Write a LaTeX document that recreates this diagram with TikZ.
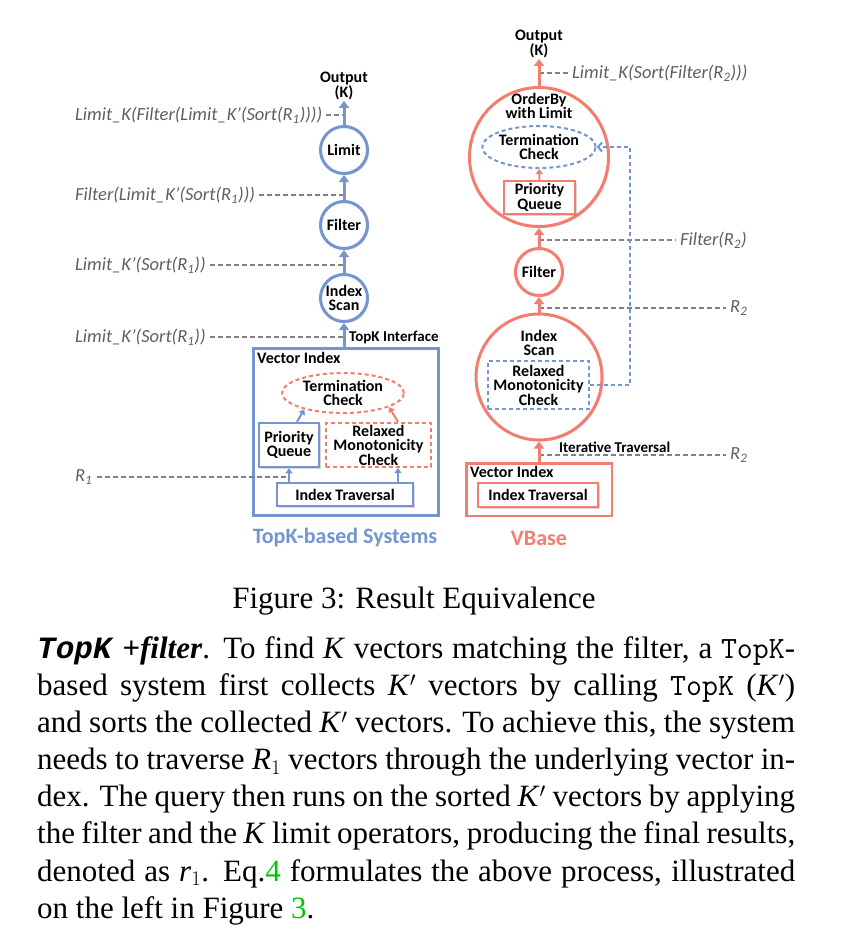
\documentclass[tikz,border=0pt]{standalone}
\usepackage{fontspec}
\setmainfont{Liberation Serif}
\newfontfamily\carlito{Carlito}
\newfontfamily\courmono{Liberation Mono}
\usetikzlibrary{arrows.meta,shapes.geometric,shadows}

\definecolor{tkblue}{RGB}{118,148,208}
\definecolor{vbred}{RGB}{243,126,112}
\definecolor{lblgray}{RGB}{95,95,95}
\definecolor{guidegray}{RGB}{128,128,128}
\definecolor{refgreen}{RGB}{0,200,0}

\newcommand{\opfont}{\carlito\bfseries\fontsize{16}{14.5}\selectfont}
\newcommand{\lblfont}{\carlito\itshape\fontsize{18.5}{20}\selectfont}
\newcommand{\ifacefont}{\carlito\bfseries\fontsize{15}{16}\selectfont}
\newcommand{\sysfont}{\carlito\bfseries\fontsize{22}{24}\selectfont}
\newcommand{\bodyfont}{\fontsize{31}{37.14}\selectfont}

\tikzset{
  shadowed/.style={drop shadow={shadow xshift=1.5pt,shadow yshift=-1.5pt,opacity=.25,fill=black!60}},
  op/.style={circle,draw=#1,line width=3pt,fill=white,inner sep=0pt,align=center,font=\opfont,shadowed},
  opbox/.style={rectangle,draw=#1,line width=2.5pt,fill=white,inner sep=0pt,align=center,font=\opfont,shadowed},
  dashbox/.style={rectangle,draw=#1,line width=2pt,dash pattern=on 4pt off 3pt,inner sep=0pt,align=center,font=\opfont},
  dashoval/.style={ellipse,draw=#1,line width=2pt,dash pattern=on 4pt off 3pt,inner sep=0pt,align=center,font=\opfont},
  optext/.style={inner sep=1pt,align=center,font=\opfont},
  lbl/.style={inner sep=4pt,font=\lblfont,text=lblgray},
  guide/.style={draw=guidegray,line width=1.2pt,dash pattern=on 5pt off 3pt},
  flow/.style={draw=#1,line width=3pt,-{Triangle[length=7pt,width=10pt]}},
  subflow/.style={draw=#1,line width=2pt,-{Triangle[length=5pt,width=7pt]}},
  feedback/.style={draw=tkblue,line width=2pt,dash pattern=on 4pt off 3pt,-{Straight Barb[length=4pt,width=9pt]}},
}

\begin{document}
\begin{tikzpicture}[x=1pt,y=-1pt]
\useasboundingbox (0,0) rectangle (849,940);

% TopK-based system
\node[op=tkblue,minimum size=47pt] (limitL) at (344,150) {Limit};
\node[op=tkblue,minimum size=47pt] (filterL) at (344,225) {Filter};
\node[op=tkblue,minimum size=47pt] (scanL) at (344,298) {Index\\Scan};
\node[optext] (outL) at (344,86) {Output\\(K)};
\node[opbox=tkblue,minimum width=185pt,minimum height=167pt] (vecL) at (346,432) {};
\node[optext,anchor=west] (vecLtitle) at (256,358) {Vector Index};
\node[dashoval=vbred,minimum width=122pt,minimum height=40pt] (termL) at (343,393) {Termination\\Check};
\node[opbox=tkblue,minimum width=60pt,minimum height=44pt] (pqL) at (289,445) {Priority\\Queue};
\node[dashbox=vbred,minimum width=105pt,minimum height=44pt] (rmcL) at (378.5,445) {Relaxed\\Monotonicity\\Check};
\node[opbox=tkblue,minimum width=136pt,minimum height=23pt] (travL) at (345,494.5) {Index Traversal};
\node[font=\ifacefont,anchor=west,inner sep=0pt] (ifaceL) at (349,337) {TopK Interface};
\node[font=\sysfont,text=tkblue] (sysL) at (345,538) {TopK-based Systems};

\node[lbl,anchor=west] (eqL1) at (71,115) {Limit\_K(Filter(Limit\_K’(Sort(R\textsubscript{1}))))};
\node[lbl,anchor=west] (eqL2) at (71,195) {Filter(Limit\_K’(Sort(R\textsubscript{1})))};
\node[lbl,anchor=west] (eqL3) at (71,265) {Limit\_K’(Sort(R\textsubscript{1}))};
\node[lbl,anchor=west] (eqL4) at (71,337) {Limit\_K’(Sort(R\textsubscript{1}))};
\node[lbl,anchor=west] (eqL5) at (71,477) {R\textsubscript{1}};

\draw[guide] (eqL1.east) -- (eqL1.east -| limitL);
\draw[guide] (eqL2.east) -- (eqL2.east -| limitL);
\draw[guide] (eqL3.east) -- (eqL3.east -| limitL);
\draw[guide] (eqL4.east) -- (eqL4.east -| limitL);
\draw[guide] (eqL5.east) -- (eqL5.east -| pqL);

\draw[flow=tkblue] (limitL) -- (outL);
\draw[flow=tkblue] (filterL) -- (limitL);
\draw[flow=tkblue] (scanL) -- (filterL);
\draw[flow=tkblue] (scanL |- vecL.north) -- (scanL);
\coordinate (rmcLfoot) at ([xshift=19.5pt]rmcL.south);
\draw[subflow=tkblue] (pqL |- travL.north) -- (pqL);
\draw[subflow=tkblue] (rmcLfoot |- travL.north) -- (rmcLfoot);
\draw[subflow=tkblue] ([xshift=8pt]pqL.north) -- (termL.-157);
\draw[subflow=vbred] (rmcLfoot |- rmcL.north) -- (termL.-17);

% VBase
\node[op=vbred,minimum size=139pt] (orderR) at (539,157) {};
\node[optext] (orderRtitle) at (539,106) {OrderBy\\with Limit};
\node[dashoval=tkblue,minimum width=113pt,minimum height=42pt] (termR) at (539,147) {Termination\\Check};
\node[opbox=vbred,minimum width=71pt,minimum height=33pt] (pqR) at (539.5,197.5) {Priority\\Queue};
\node[op=vbred,minimum size=47pt] (filterR) at (539,272) {Filter};
\node[op=vbred,minimum size=126pt] (scanR) at (539,377) {};
\node[optext] (scanRtitle) at (539,343) {Index\\Scan};
\node[dashbox=tkblue,minimum width=101pt,minimum height=48pt] (rmcR) at (538.5,385) {Relaxed\\Monotonicity\\Check};
\node[opbox=vbred,minimum width=145.5pt,minimum height=52.5pt] (vecR) at (539,489.5) {};
\node[optext,anchor=west] (vecRtitle) at (469,472) {Vector Index};
\node[opbox=vbred,minimum width=120pt,minimum height=24pt] (travR) at (538,495) {Index Traversal};
\node[optext] (outR) at (539,44) {Output\\(K)};
\node[font=\ifacefont,anchor=west,inner sep=0pt] (ifaceR) at (559,447) {Iterative Traversal};
\node[font=\sysfont,text=vbred] (sysR) at (539,538) {VBase};

\node[lbl,anchor=west] (eqR1) at (568,73) {Limit\_K(Sort(Filter(R\textsubscript{2})))};
\node[lbl,anchor=west] (eqR2) at (676,240) {Filter(R\textsubscript{2})};
\node[lbl,anchor=west] (eqR3) at (726,308) {R\textsubscript{2}};
\node[lbl,anchor=west] (eqR4) at (726,455) {R\textsubscript{2}};

\draw[guide] (eqR1.west -| orderR) -- (eqR1.west);
\draw[guide] (eqR2.west -| orderR) -- (eqR2.west);
\draw[guide] (eqR3.west -| orderR) -- (eqR3.west);
\draw[guide] (eqR4.west -| orderR) -- (eqR4.west);

\draw[flow=vbred] (orderR) -- (outR);
\draw[flow=vbred] (filterR) -- (orderR);
\draw[flow=vbred] (scanR) -- (filterR);
\draw[flow=vbred] (vecR) -- (scanR);
\draw[subflow=vbred] (pqR) -- (termR);
\draw[feedback] (rmcR.east) -- ++(40,0) |- (termR.east);

% caption and text
\node[font=\bodyfont,anchor=base] (caption) at (414,608) {Figure 3: Result Equivalence};
\node[anchor=north west,inner sep=0pt,text width=758pt,align=justify,font=\bodyfont] (body) at (37,632)
{\strut{\courmono\bfseries\itshape TopK} \textbf{\textit{+filter}}. To find \textit{K} vectors matching the filter, a \texttt{TopK}-\linebreak
based system first collects \textit{K}$'$ vectors by calling \texttt{TopK} (\textit{K}$'$)\linebreak
and sorts the collected \textit{K}$'$ vectors. To achieve this, the system\linebreak
needs to traverse \textit{R}$_1$ vectors through the underlying vector in-\linebreak
dex. The query then runs on the sorted \textit{K}$'$ vectors by applying\linebreak
the filter and the \textit{K} limit operators, producing the final results,\linebreak
denoted as \textit{r}$_1$. Eq.\textcolor{refgreen}{4} formulates the above process, illustrated\linebreak
on the left in Figure~\textcolor{refgreen}{3}.};
\end{tikzpicture}
\end{document}
